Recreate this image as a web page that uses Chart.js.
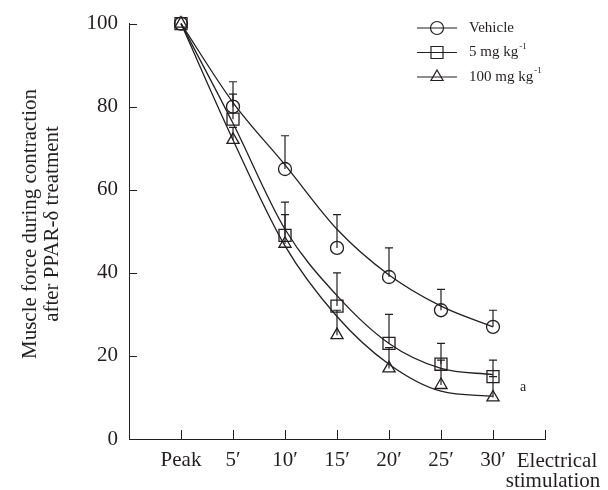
<!DOCTYPE html>
<html lang="en">
<head>
<meta charset="UTF-8">
<title>Muscle force after PPAR-δ treatment</title>
<script src="https://cdn.jsdelivr.net/npm/chart.js"></script>
<style>
  body { margin: 0; background: #fff; }
</style>
</head>
<body>
<canvas id="forceChart" width="608" height="490"></canvas>
<script>
// categories and tick labels
const xLabels = ["Peak", "5′", "10′", "15′", "20′", "25′", "30′"];
const yTicks = [0, 20, 40, 60, 80, 100];
const seriesNames = ["Vehicle", "5 mg kg", "100 mg kg"];
const seriesSup = ["", "-1", "-1"];
const seriesMarks = ["circle", "rect", "triangle"];

// means, upper error limits, fitted curves
const vehicleMean = [100, 80, 65, 46, 39, 31, 27];
const vehicleErr  = [null, 86, 73, 54, 46, 36, 31];
const vehicleFit  = [100, 81, 66, 50.5, 39.5, 32, 27];

const lowMean = [100, 77, 49, 32, 23, 18, 15];
const lowErr  = [null, 83, 57, 40, 30, 23, 19];
const lowFit  = [100, 76, 50.5, 34.5, 23, 17, 15.5];

const highMean = [100, 72, 47, 25, 17, 13, 10];
const highErr  = [null, 75, 54, 31, 22, 19, 15];
const highFit  = [100, 72, 46.5, 29.5, 18, 11.5, 10.3];

const ink = "#231f20";
const serif = "'Liberation Serif', 'DejaVu Serif', serif";
const pointSize = { circle: 6.5, rect: 8.5, triangle: 7 };

const means = [vehicleMean, lowMean, highMean];
const errs = [vehicleErr, lowErr, highErr];
const fits = [vehicleFit, lowFit, highFit];

const toXY = arr => arr.map((v, i) => ({ x: i, y: v }));

const datasets = [];
fits.forEach((f, k) => {
    datasets.push({
        label: seriesNames[k] + " fit",
        data: toXY(f),
        showLine: true,
        borderColor: ink,
        borderWidth: 1.3,
        pointRadius: 0,
        fill: false,
        clip: false,
        cubicInterpolationMode: "monotone"
    });
});
means.forEach((m, k) => {
    datasets.push({
        label: seriesNames[k],
        data: toXY(m),
        showLine: false,
        clip: false,
        pointStyle: seriesMarks[k],
        pointRadius: pointSize[seriesMarks[k]],
        pointBorderColor: ink,
        pointBackgroundColor: "rgba(0,0,0,0)",
        pointBorderWidth: 1.3
    });
});

function drawMark(ctx, style, x, y) {
    const r = pointSize[style];
    ctx.beginPath();
    if (style === "circle") {
        ctx.arc(x, y, r, 0, Math.PI * 2);
    } else if (style === "rect") {
        const s = r * Math.SQRT1_2;
        ctx.rect(x - s, y - s, 2 * s, 2 * s);
    } else {
        ctx.moveTo(x, y - r);
        ctx.lineTo(x + r * 0.866, y + r / 2);
        ctx.lineTo(x - r * 0.866, y + r / 2);
        ctx.closePath();
    }
    ctx.stroke();
}

const extras = {
    id: "extras",
    afterDatasetsDraw(chart) {
        const { ctx, scales: { x, y } } = chart;
        ctx.save();
        ctx.strokeStyle = ink;
        ctx.fillStyle = ink;
        ctx.lineWidth = 1.2;

        // error bars (upper only)
        means.forEach((m, k) => {
            errs[k].forEach((top, i) => {
                if (top == null) return;
                const px = x.getPixelForValue(i);
                const y0 = y.getPixelForValue(m[i]);
                const y1 = y.getPixelForValue(top);
                ctx.beginPath();
                ctx.moveTo(px, y0);
                ctx.lineTo(px, y1);
                ctx.moveTo(px - 4, y1);
                ctx.lineTo(px + 4, y1);
                ctx.stroke();
            });
        });

        // inward tick marks
        ctx.lineWidth = 1;
        yTicks.forEach(v => {
            const py = Math.round(y.getPixelForValue(v)) + 0.5;
            ctx.beginPath();
            ctx.moveTo(x.left, py);
            ctx.lineTo(x.left + 8, py);
            ctx.stroke();
        });
        for (let i = 0; i <= xLabels.length; i++) {
            const px = Math.round(x.getPixelForValue(i)) + 0.5;
            ctx.beginPath();
            ctx.moveTo(px, y.bottom);
            ctx.lineTo(px, y.bottom - 9);
            ctx.stroke();
        }

        // axis titles
        ctx.font = "21px " + serif;
        ctx.textAlign = "center";
        ctx.textBaseline = "middle";
        ctx.save();
        ctx.translate(30, 224);
        ctx.rotate(-Math.PI / 2);
        ctx.fillText("Muscle force during contraction", 0, 0);
        ctx.fillText("after PPAR-δ treatment", 0, 22);
        ctx.restore();
        ctx.fillText("Electrical", 557, 461);
        ctx.fillText("stimulation", 553, 481);

        // significance mark
        ctx.font = "14px " + serif;
        ctx.fillText("a", x.getPixelForValue(6) + 30, y.getPixelForValue(12.5));

        // legend
        ctx.lineWidth = 1.2;
        ctx.textAlign = "left";
        seriesNames.forEach((name, k) => {
            const ly = 28 + k * 24.5;
            ctx.beginPath();
            ctx.moveTo(417, ly);
            ctx.lineTo(457, ly);
            ctx.stroke();
            drawMark(ctx, seriesMarks[k], 437, ly);
            ctx.font = "15px " + serif;
            ctx.fillText(name, 469, ly);
            if (seriesSup[k]) {
                const w = ctx.measureText(name).width;
                ctx.font = "9px " + serif;
                ctx.fillText(seriesSup[k], 469 + w + 1, ly - 6);
            }
        });
        ctx.restore();
    }
};

new Chart("forceChart", {
    type: "scatter",
    data: { datasets: datasets },
    options: {
        responsive: false,
        animation: false,
        layout: { padding: { top: 23, right: 63, left: 0, bottom: 0 } },
        plugins: { legend: { display: false }, tooltip: { enabled: false } },
        scales: {
            x: {
                type: "linear",
                min: -1,
                max: 7,
                afterFit: s => { s.height = 51; },
                afterBuildTicks: s => { s.ticks = [-1, 0, 1, 2, 3, 4, 5, 6, 7].map(v => ({ value: v })); },
                grid: { display: false, drawTicks: false },
                border: { display: true, color: ink, width: 1 },
                ticks: {
                    padding: 9,
                    maxRotation: 0,
                    autoSkip: false,
                    color: ink,
                    font: { family: serif, size: 21 },
                    callback: v => xLabels[v] ?? ""
                }
            },
            y: {
                min: 0,
                max: 100,
                afterFit: s => { s.width = 129; },
                afterBuildTicks: s => { s.ticks = yTicks.map(v => ({ value: v })); },
                grid: { display: false, drawTicks: false },
                border: { display: true, color: ink, width: 1 },
                ticks: {
                    padding: 11,
                    color: ink,
                    font: { family: serif, size: 21 }
                }
            }
        }
    },
    plugins: [extras]
});
</script>
</body>
</html>
